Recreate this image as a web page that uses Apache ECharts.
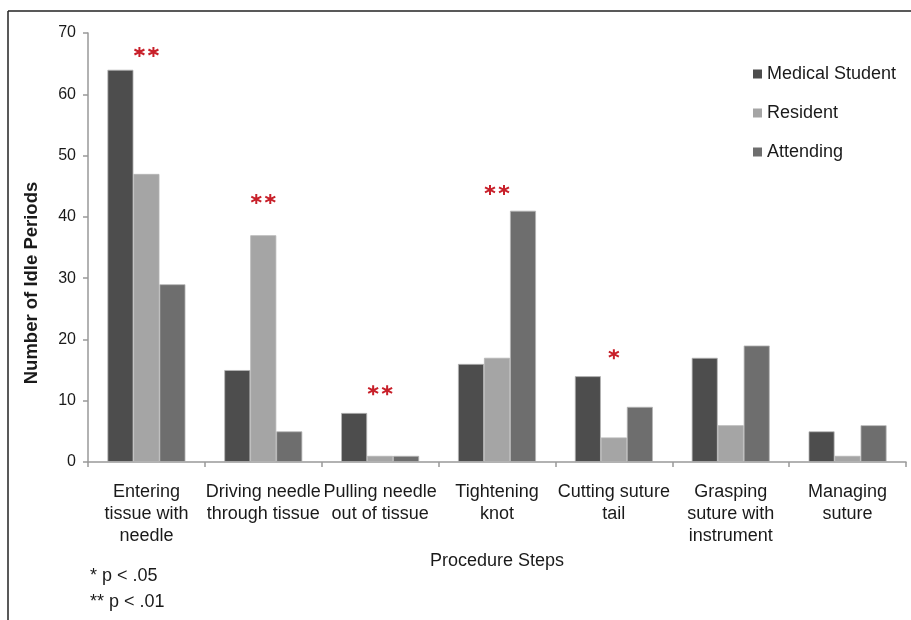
<!DOCTYPE html>
<html>
<head>
<meta charset="utf-8">
<script src="https://cdn.jsdelivr.net/npm/echarts@6/dist/echarts.min.js"></script>
<style>
  html, body { margin: 0; padding: 0; background: #fff; }
  #chart { width: 911px; height: 620px; }
</style>
</head>
<body>
<div id="chart"></div>
<script>
// Procedure steps on the x axis
const categories = [
  'Entering\ntissue with\nneedle',
  'Driving needle\nthrough tissue',
  'Pulling needle\nout of tissue',
  'Tightening\nknot',
  'Cutting suture\ntail',
  'Grasping\nsuture with\ninstrument',
  'Managing\nsuture'
];

// Idle periods per training level
const medicalStudent = [64, 15, 8, 16, 14, 17, 5];
const resident       = [47, 37, 1, 17, 4, 6, 1];
const attending      = [29, 5, 1, 41, 9, 19, 6];

// Significance markers (number of stars) and the height they sit at
const sigStars  = [2, 2, 2, 2, 1, 0, 0];
const sigHeight = [66.9, 42.9, 11.7, 44.4, 17.6, null, null];

const yTicks = [0, 10, 20, 30, 40, 50, 60, 70];

const FONT = 'Liberation Sans, Arial, sans-serif';

// six-armed asterisk glyph drawn as a stroked path
const STAR = 'path://M4 0L4 8M0.54 2L7.46 6M0.54 6L7.46 2';
const STAR_GAP = 7;

const chart = echarts.init(document.getElementById('chart'));

function barSeries(name, data, color) {
  return {
    name: name,
    type: 'bar',
    data: data,
    barWidth: 26,
    barGap: '0%',
    itemStyle: { color: color, borderColor: '#b5b5b5', borderWidth: 0.8 },
    emphasis: { disabled: true }
  };
}

// one star per group; "which" picks the first or second star of a pair
function starSeries(which) {
  return {
    type: 'scatter',
    silent: true,
    symbol: STAR,
    symbolSize: [10, 10],
    data: sigHeight.map((v, i) => {
      const n = sigStars[i];
      if (n === 0 || (which === 1 && n < 2)) return { value: [i, null] };
      const off = n === 2 ? (which === 0 ? -STAR_GAP : STAR_GAP) : 0;
      return { value: [i, v], symbolOffset: [off, 0] };
    }),
    itemStyle: { color: 'none', borderColor: '#c8202a', borderWidth: 2, opacity: 1 }
  };
}

chart.setOption({
  animation: false,
  backgroundColor: '#fff',
  textStyle: { fontFamily: FONT },
  grid: { left: 88, right: 5, top: 33, bottom: 158, containLabel: false },
  legend: {
    orient: 'vertical',
    left: 753,
    top: 64,
    padding: 0,
    itemWidth: 9,
    itemHeight: 9,
    itemGap: 19,
    icon: 'rect',
    itemStyle: { borderWidth: 0 },
    textStyle: { fontSize: 18, lineHeight: 20, color: '#1a1a1a', fontFamily: FONT },
    data: ['Medical Student', 'Resident', 'Attending']
  },
  xAxis: {
    type: 'category',
    data: categories,
    name: 'Procedure Steps',
    nameLocation: 'middle',
    nameGap: 89,
    nameTextStyle: { fontSize: 18, color: '#1a1a1a', fontFamily: FONT },
    axisLine: { lineStyle: { color: '#999', width: 1.5 } },
    axisTick: { show: true, length: 5, lineStyle: { color: '#999', width: 1.5 } },
    axisLabel: {
      fontSize: 18, color: '#1a1a1a', lineHeight: 22, margin: 19, interval: 0, fontFamily: FONT
    }
  },
  yAxis: {
    type: 'value',
    min: 0,
    max: 70,
    interval: 10,
    axisLine: { show: true, lineStyle: { color: '#999', width: 1.5 } },
    axisTick: { show: true, length: 5, lineStyle: { color: '#999', width: 1.5 } },
    axisLabel: {
      fontSize: 16, color: '#1a1a1a', margin: 12, fontFamily: FONT,
      formatter: v => yTicks.includes(v) ? String(v) : ''
    },
    splitLine: { show: false }
  },
  graphic: [
    // frame lines
    { type: 'line', shape: { x1: 8, y1: 11, x2: 911, y2: 11 }, style: { stroke: '#222', lineWidth: 1.5 } },
    { type: 'line', shape: { x1: 8, y1: 11, x2: 8, y2: 620 }, style: { stroke: '#222', lineWidth: 1.5 } },
    // y axis title
    {
      type: 'text', x: 32, y: 283, rotation: Math.PI / 2,
      style: {
        text: 'Number of Idle Periods', fontSize: 18.5, fontWeight: 'bold',
        fill: '#1a1a1a', fontFamily: FONT, textAlign: 'center', textVerticalAlign: 'middle'
      }
    },
    // footnotes
    { type: 'text', x: 90, y: 567, style: { text: '* p < .05', fontSize: 18, fill: '#1a1a1a', fontFamily: FONT } },
    { type: 'text', x: 90, y: 593, style: { text: '** p < .01', fontSize: 18, fill: '#1a1a1a', fontFamily: FONT } }
  ],
  series: [
    barSeries('Medical Student', medicalStudent, '#4d4d4d'),
    barSeries('Resident', resident, '#a5a5a5'),
    barSeries('Attending', attending, '#6e6e6e'),
    starSeries(0),
    starSeries(1)
  ]
});
</script>
</body>
</html>
